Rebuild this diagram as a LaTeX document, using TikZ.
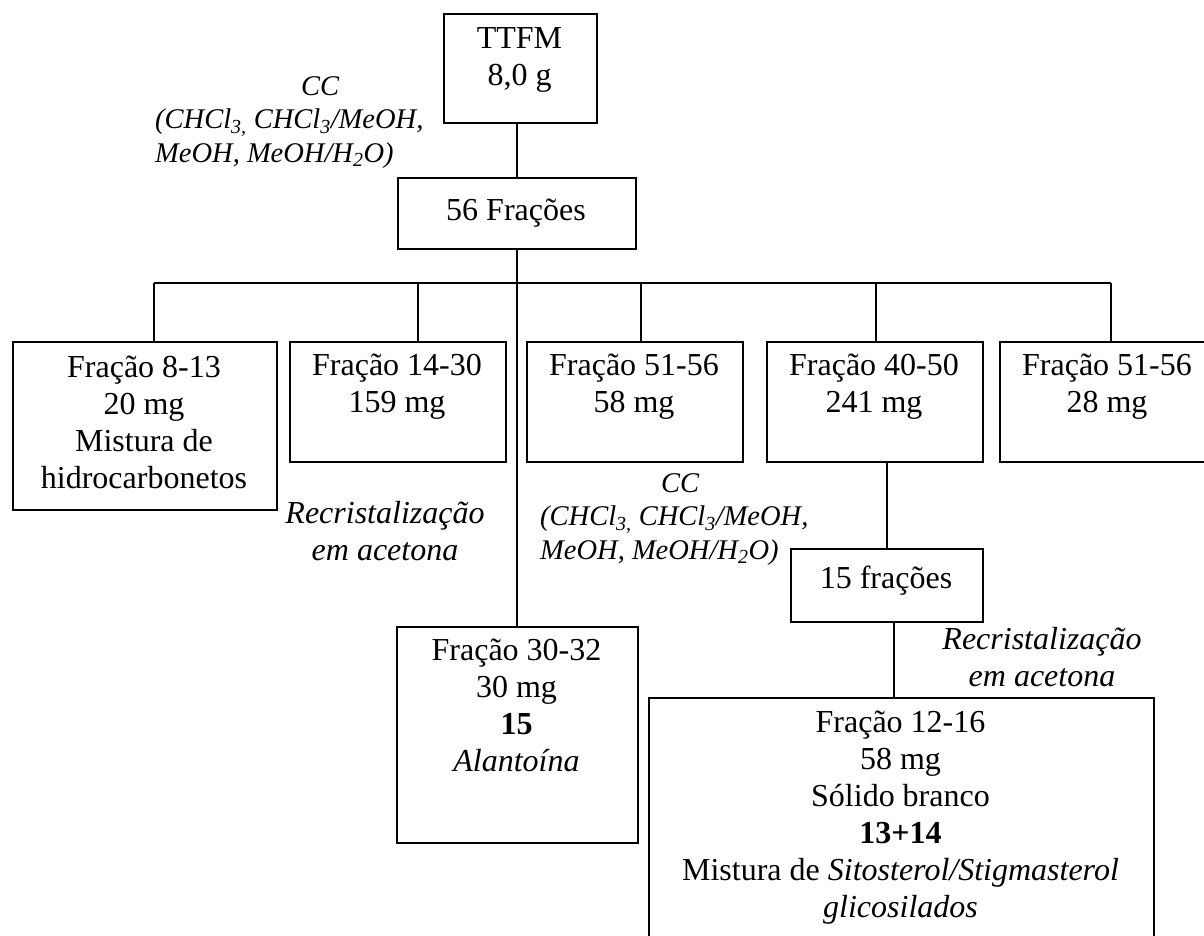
\documentclass[tikz,border=0pt]{standalone}
\usepackage{fontspec}
\setmainfont{Liberation Serif}
\begin{document}
\begin{tikzpicture}[x=1pt,y=-1pt,
  box/.style={draw, line width=2pt, inner sep=0pt, anchor=north west},
  txt/.style={font=\fontsize{32}{37}\selectfont, align=center, inner sep=0pt, anchor=north, execute at begin node=\strut},
  lbl/.style={font=\fontsize{28.5}{33.5}\selectfont\itshape, align=left, inner sep=0pt, anchor=north west, execute at begin node=\strut},
  rec/.style={font=\fontsize{32}{36.5}\selectfont\itshape, align=center, inner sep=0pt, anchor=north, execute at begin node=\strut},
  conn/.style={line width=2pt}]
\useasboundingbox (0,0) rectangle (1204,935);
\clip (0,0) rectangle (1204,935);

% boxes
\node[box, minimum width=153pt, minimum height=109pt] (ttfm) at (443,13) {};
\node[box, minimum width=238pt, minimum height=71pt] (f56) at (397,177) {};
\node[box, minimum width=264pt, minimum height=168pt] (b1) at (12,341) {};
\node[box, minimum width=216pt, minimum height=120pt] (b2) at (289,341) {};
\node[box, minimum width=216pt, minimum height=120pt] (b3) at (526,341) {};
\node[box, minimum width=216pt, minimum height=120pt] (b4) at (766,341) {};
\node[box, minimum width=220pt, minimum height=120pt] (b5) at (999,341) {};
\node[box, minimum width=192pt, minimum height=73pt] (f15) at (790,548) {};
\node[box, minimum width=241pt, minimum height=216pt] (f3032) at (396,626) {};
\node[box, minimum width=505pt, minimum height=262pt] (fbot) at (648,697) {};

% box texts
\node[txt] (ttfmt) at (519.5,27.1) {TTFM\\8,0 g};
\node[txt] (f56t) at (516,194.1) {56 Frações};
\node[txt] (b1t) at (144,356.1) {Fração 8-13\\20 mg\\Mistura de\\hidrocarbonetos};
\node[txt] (b2t) at (397,354.1) {Fração 14-30\\159 mg};
\node[txt] (b3t) at (634,354.1) {Fração 51-56\\58 mg};
\node[txt] (b4t) at (874,354.1) {Fração 40-50\\241 mg};
\node[txt] (b5t) at (1107,354.1) {Fração 51-56\\28 mg};
\node[txt] (f15t) at (886,562.1) {15 frações};
\node[txt] (f3032t) at (516.5,639.1) {Fração 30-32\\30 mg\\\textbf{15}\\\textit{Alantoína}};
\node[txt] (fbott) at (900.5,711.1) {Fração 12-16\\58 mg\\Sólido branco\\\textbf{13+14}\\Mistura de \textit{Sitosterol/Stigmasterol}\\\textit{glicosilados}};

% labels
\node[lbl] (cc1) at (155,76.2) {\hspace*{146pt}CC\\(CHCl\textsubscript{3,} CHCl\textsubscript{3}/MeOH,\\MeOH, MeOH/H\textsubscript{2}O)};
\node[lbl] (cc2) at (540,473.2) {\hspace*{121pt}CC\\(CHCl\textsubscript{3,} CHCl\textsubscript{3}/MeOH,\\MeOH, MeOH/H\textsubscript{2}O)};
\node[rec] (rec1) at (385,501.4) {Recristalização\\em acetona};
\node[rec] (rec2) at (1042,627.4) {Recristalização\\em acetona};

% connectors
\coordinate (bl) at (154,283);
\coordinate (br) at (1111,283);
\coordinate (d2) at (418,283);
\coordinate (d3) at (641,283);
\coordinate (d4) at (876,283);
\coordinate (m) at (517,283);
\coordinate (lowx) at (894,621);

\draw[conn] (m |- ttfm.south) -- (m |- f56.north);
\draw[conn] (m |- f56.south) -- (m |- f3032.north);
\draw[conn] (bl) -- (br);
\draw[conn] (bl) -- (bl |- b1.north);
\draw[conn] (d2) -- (d2 |- b2.north);
\draw[conn] (d3) -- (d3 |- b3.north);
\draw[conn] (d4) -- (d4 |- b4.north);
\draw[conn] (br) -- (br |- b5.north);
\draw[conn] (f15.north |- b4.south) -- (f15.north);
\draw[conn] (lowx |- f15.south) -- (lowx |- fbot.north);
\end{tikzpicture}
\end{document}
